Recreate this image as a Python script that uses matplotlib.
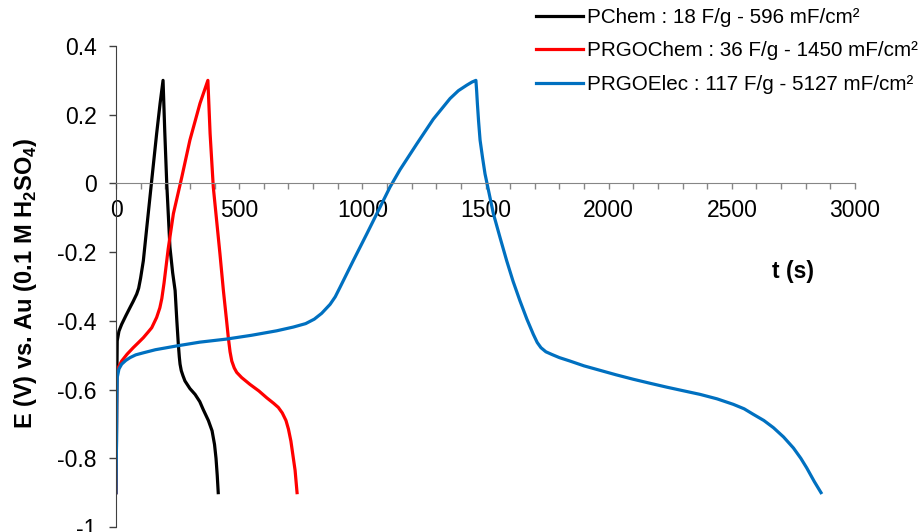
import numpy as np
import matplotlib
matplotlib.use('Agg')
import matplotlib.pyplot as plt

plt.rcParams['font.family'] = ['Liberation Sans', 'DejaVu Sans']
plt.rcParams['mathtext.fontset'] = 'custom'
plt.rcParams['mathtext.rm'] = 'Liberation Sans'
plt.rcParams['mathtext.bf'] = 'Liberation Sans:bold'

# courbes de charge / décharge galvanostatique
t_pchem = [0, 2, 3, 5, 12, 23, 40, 57, 70, 84, 92, 100, 111, 125, 145, 165, 179, 191,
           198, 206, 219, 230, 240, 247, 253, 257, 260, 265, 272, 280, 300, 321, 340, 354,
           375, 390, 400, 406, 411, 415]
e_pchem = [-0.90, -0.75, -0.604, -0.458, -0.43, -0.41, -0.385, -0.361, -0.343, -0.322, -0.305, -0.275,
           -0.225, -0.128, 0.009, 0.145, 0.233, 0.30,
           0.15, 0.0, -0.186, -0.26, -0.312, -0.40, -0.468, -0.505, -0.526, -0.545, -0.56, -0.575,
           -0.597, -0.614, -0.635, -0.658, -0.69, -0.72, -0.76, -0.80, -0.85, -0.90]

t_prgochem = [0, 2, 3, 10, 23, 45, 70, 90, 111, 130, 145, 165, 178, 186, 195, 212, 233, 267, 300, 341, 373,
              382, 395, 422, 436, 449, 456, 463, 470, 480, 490, 510, 544, 580, 612, 640, 659, 675, 690,
              700, 710, 718, 727, 735]
e_prgochem = [-0.90, -0.70, -0.556, -0.535, -0.517, -0.497, -0.478, -0.464, -0.449, -0.433, -0.42, -0.39,
              -0.362, -0.335, -0.29, -0.19, -0.088, 0.018, 0.126, 0.233, 0.30,
              0.145, -0.011, -0.205, -0.312, -0.40, -0.449, -0.49, -0.517, -0.537, -0.55, -0.565, -0.585,
              -0.604, -0.624, -0.640, -0.652, -0.668, -0.69, -0.715, -0.75, -0.79, -0.835, -0.90]

t_prgoelec = [0, 2, 3, 5, 12, 23, 40, 57, 80, 111, 160, 246, 340, 449, 550, 652, 720, 770, 805, 835, 869,
              890, 909, 963, 1018, 1072, 1112, 1153, 1221, 1288, 1356, 1390, 1424, 1445, 1461,
              1464, 1467, 1472, 1478, 1488, 1498, 1515, 1532, 1560, 1586, 1612, 1640, 1668, 1694,
              1710, 1725, 1745, 1770, 1800, 1843, 1900, 1965, 2030, 2100, 2170, 2236, 2300, 2371,
              2440, 2506, 2550, 2587, 2630, 2669, 2710, 2750, 2780, 2804, 2835, 2862]
e_prgoelec = [-0.90, -0.75, -0.643, -0.565, -0.54, -0.526, -0.515, -0.507, -0.499, -0.493, -0.484,
              -0.473, -0.462, -0.453, -0.442, -0.429, -0.418, -0.408, -0.395, -0.378, -0.352,
              -0.33, -0.303, -0.225, -0.147, -0.069, -0.011, 0.04, 0.115, 0.187, 0.247, 0.27, 0.286,
              0.295, 0.30,
              0.27, 0.233, 0.18, 0.126, 0.075, 0.028, -0.03, -0.088, -0.16, -0.225, -0.285, -0.342,
              -0.395, -0.439, -0.463, -0.478, -0.490, -0.498, -0.507, -0.517, -0.531, -0.544, -0.557,
              -0.570, -0.582, -0.593, -0.603, -0.614, -0.627, -0.643, -0.656, -0.672, -0.69, -0.711,
              -0.738, -0.77, -0.80, -0.828, -0.868, -0.90]

labels = ['PChem : 18 F/g - 596 mF/cm²',
          'PRGOChem : 36 F/g - 1450 mF/cm²',
          'PRGOElec : 117 F/g - 5127 mF/cm²']
colors = ['#000000', '#FF0000', '#0070C0']

x_major = [0, 500, 1000, 1500, 2000, 2500, 3000]
x_minor = list(range(0, 3001, 100))
y_ticks = [-1, -0.8, -0.6, -0.4, -0.2, 0, 0.2, 0.4]
y_ticklabels = ['-1', '-0.8', '-0.6', '-0.4', '-0.2', '0', '0.2', '0.4']

fig = plt.figure(figsize=(9.22, 5.32), dpi=100)
ax = fig.add_axes([116 / 922, 5 / 532, 739 / 922, 481 / 532])

for t, e, lab, c in zip([t_pchem, t_prgochem, t_prgoelec],
                        [e_pchem, e_prgochem, e_prgoelec], labels, colors):
    ax.plot(t, e, color=c, linewidth=2.3, label=lab, solid_joinstyle='round')

ax.set_xlim(0, 3000)
ax.set_ylim(-1, 0.4)

ax.spines['top'].set_visible(False)
ax.spines['right'].set_visible(False)
ax.spines['bottom'].set_position(('data', 0))
ax.spines['bottom'].set_color('#868686')
ax.spines['left'].set_color('#404040')

ax.set_xticks(x_major)
ax.set_xticklabels([str(v) for v in x_major])
ax.set_xticks(x_minor, minor=True)
ax.set_yticks(y_ticks)
ax.set_yticklabels(y_ticklabels)

ax.tick_params(axis='x', which='both', direction='out', length=4.5, width=1,
               color='#868686', pad=7, labelsize=16.5)
ax.tick_params(axis='y', direction='out', length=5, width=1, color='#404040',
               pad=9, labelsize=16.5)

ax.set_xlabel('t (s)', fontsize=16.5, fontweight='bold', va='center')
ax.xaxis.set_label_coords(0.916, 0.532)
ax.set_ylabel(r'E (V) vs. Au (0.1 M H$_\mathbf{2}$SO$_\mathbf{4}$)', fontsize=17,
              fontweight='bold', va='center')
ax.yaxis.set_label_coords(-0.122, 0.507)

ax.legend(loc='upper left', bbox_to_anchor=(536 / 922, 0.985), bbox_transform=fig.transFigure,
          frameon=False, fontsize=14.9, borderpad=0, borderaxespad=0,
          handlelength=2.25, handletextpad=0.2, labelspacing=0.7)

fig.savefig('out.png', dpi=100)
